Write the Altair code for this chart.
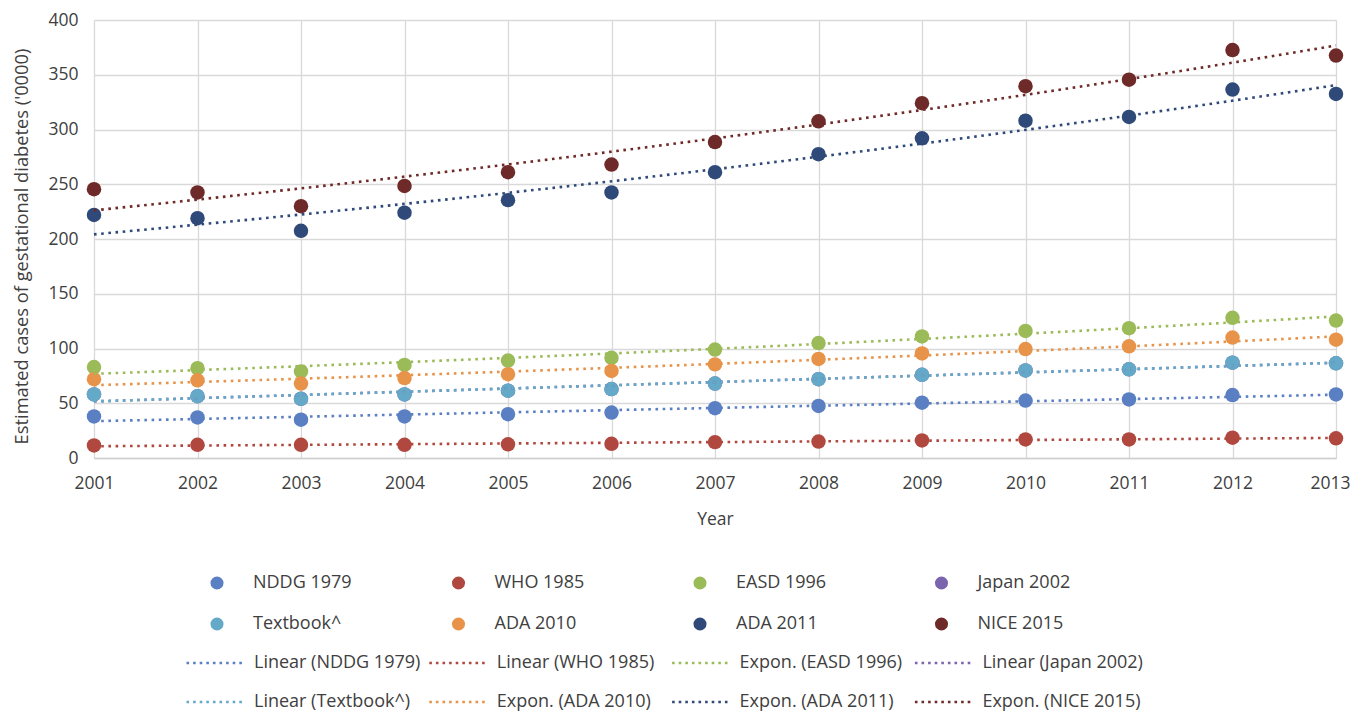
import altair as alt
import pandas as pd

# ---------------- data ----------------
years = list(range(2001, 2014))
y_ticks = [0, 50, 100, 150, 200, 250, 300, 350, 400]

series = ["NDDG 1979", "WHO 1985", "EASD 1996", "Japan 2002",
          "Textbook^", "ADA 2010", "ADA 2011", "NICE 2015"]
trend_labels = ["Linear (NDDG 1979)", "Linear (WHO 1985)", "Expon. (EASD 1996)",
                "Linear (Japan 2002)", "Linear (Textbook^)", "Expon. (ADA 2010)",
                "Expon. (ADA 2011)", "Expon. (NICE 2015)"]
fit_methods = ["linear", "linear", "exp", "linear", "linear", "exp", "exp", "exp"]
colors = ["#5A7FC2", "#B0483F", "#9BBB59", "#7B64AE",
          "#64AAC8", "#E8934A", "#2F4A78", "#6E2A28"]

nddg = [38, 37, 35, 38, 40, 41.5, 45.5, 47.5, 50.5, 52.5, 53.5, 57.5, 58]
who = [11.5, 12, 12, 12, 12.5, 13, 14.5, 15, 16, 17, 17, 18.5, 18]
easd = [83, 82, 79, 85, 89, 91.5, 99, 105, 111, 116, 118.5, 128, 125.5]
japan = [58, 56.5, 54, 58, 61.5, 63, 68, 72, 76, 80, 81, 87, 86.5]
textbook = [58, 56.5, 54, 58, 61.5, 63, 68, 72, 76, 80, 81, 87, 86.5]
ada2010 = [72, 71, 68, 73, 76.5, 79.5, 85.5, 90.5, 95.5, 99.5, 102, 110, 108]
ada2011 = [222, 219, 207.5, 224, 235.5, 242.5, 261, 277.5, 292, 308, 311.5, 336.5, 332.5]
nice = [245.5, 242.5, 230, 248.5, 261, 268, 288.5, 307.5, 324, 339.5, 345.5, 372.5, 367.5]

values = [nddg, who, easd, japan, textbook, ada2010, ada2011, nice]

rows = []
for s, t, m, vals in zip(series, trend_labels, fit_methods, values):
    for yr, v in zip(years, vals):
        rows.append({"year": yr, "value": v, "series": s, "trend": t, "fit": m})
df = pd.DataFrame(rows)

FONT = "Open Sans"
TXT = "#404040"

x_enc = alt.X(
    "year:Q",
    scale=alt.Scale(domain=[2001, 2013], nice=False, zero=False),
    axis=alt.Axis(
        values=years, format="d", title="Year",
        grid=True, gridColor="#d9d9d9", gridWidth=1.3,
        ticks=False, domain=True, domainColor="#d0d0d0", domainWidth=1.3,
        labelPadding=16, labelFontSize=17.5, labelFont=FONT, labelColor=TXT,
        labelFlush=False,
        labelOffset=alt.condition("datum.value == 2013", alt.value(-6), alt.value(0)),
        titleFont=FONT, titleFontSize=17.5, titleFontWeight="normal", titleColor=TXT,
        titleY=61, titleBaseline="middle",
    ),
)
y_enc = alt.Y(
    "value:Q",
    scale=alt.Scale(domain=[0, 400], nice=False),
    axis=alt.Axis(
        values=y_ticks, title="Estimated cases of gestational diabetes ('0000)",
        grid=True, gridColor="#d9d9d9", gridWidth=1.3,
        ticks=False, domain=False,
        labelPadding=16, labelFontSize=17.5, labelFont=FONT, labelColor=TXT,
        titleFont=FONT, titleFontSize=18.3, titleFontWeight="normal", titleColor=TXT,
        titleX=-72, titleY=226, titleBaseline="middle", titleAlign="center",
    ),
)

base = alt.Chart(df)

points = base.mark_circle(size=210, opacity=1).encode(
    x=x_enc,
    y=y_enc,
    color=alt.Color(
        "series:N",
        scale=alt.Scale(domain=series, range=colors),
        legend=alt.Legend(
            orient="none", legendX=114, legendY=554, columns=4,
            direction="horizontal", title=None, padding=0,
            symbolType="circle", symbolSize=170, symbolOpacity=1,
            labelFont=FONT, labelFontSize=18, labelColor=TXT, labelLimit=400,
            labelOffset=27, columnPadding=97.5, rowPadding=23, gridAlign="all",
        ),
    ),
)

line_legend = alt.Legend(
    orient="none", legendX=91, legendY=613, columns=4,
    direction="horizontal", title=None, padding=0,
    symbolType="M-1,0H1", symbolSize=3249, symbolStrokeWidth=2.6,
    symbolDash=[2.6, 4],
    labelFont=FONT, labelFontSize=18, labelColor=TXT, labelLimit=400,
    labelOffset=9, columnPadding=2.8, rowPadding=-17, gridAlign="all",
)

def trend_layer(method):
    return (
        base.transform_filter(alt.datum.fit == method)
        .transform_regression("year", "value", groupby=["trend"], method=method)
        .mark_line(strokeWidth=2.6, strokeDash=[2.6, 4.6])
        .encode(
            x="year:Q",
            y="value:Q",
            color=alt.Color(
                "trend:N",
                scale=alt.Scale(domain=trend_labels, range=colors),
                legend=line_legend,
            ),
        )
    )

lines = alt.layer(trend_layer("linear"), trend_layer("exp"))

chart = (
    alt.layer(points, lines)
    .resolve_scale(color="independent")
    .properties(
        width=1242, height=438,
        autosize=alt.AutoSizeParams(type="none"),
        padding={"left": 86, "top": 12, "right": 14, "bottom": 253},
    )
    .configure_view(strokeWidth=0)
)

chart.save("out.html", embed_options={"renderer": "svg", "actions": False})
